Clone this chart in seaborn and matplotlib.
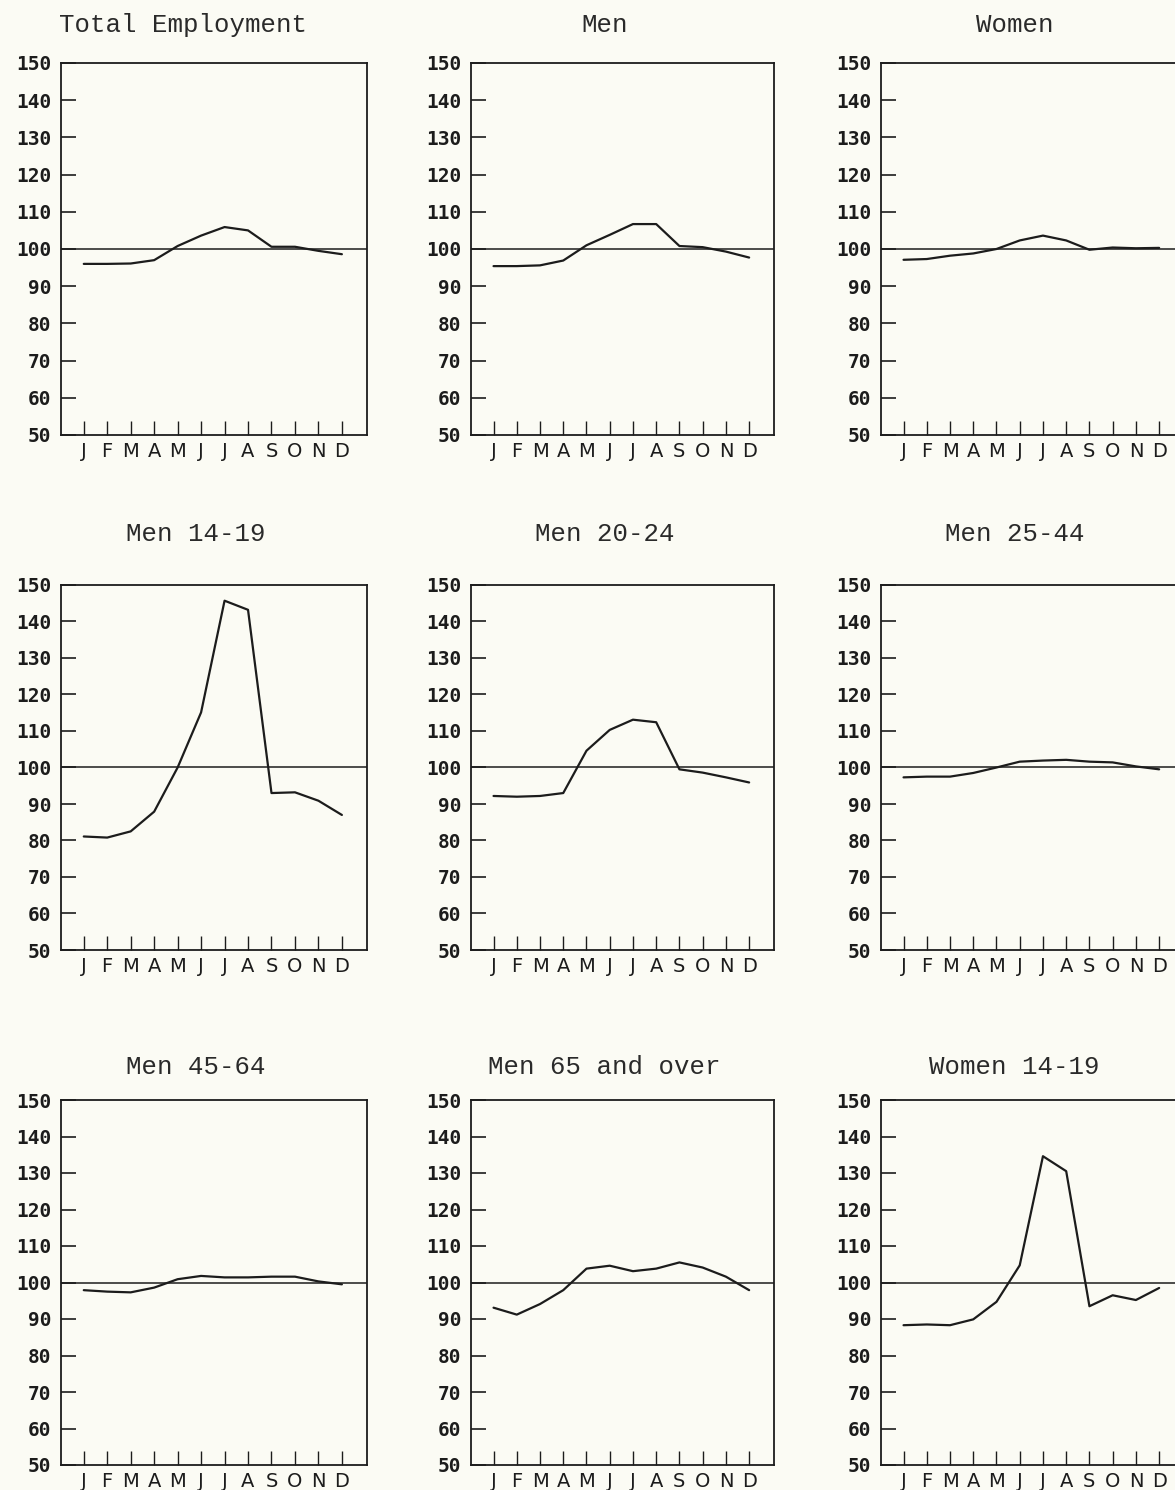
import numpy as np
import pandas as pd
import matplotlib
matplotlib.use("Agg")
import matplotlib.pyplot as plt
import seaborn as sns

# --- Data (seasonal index, 100 = annual average) ---
MONTHS = ["J", "F", "M", "A", "M", "J", "J", "A", "S", "O", "N", "D"]

total_employment = [96.0, 96.0, 96.1, 97.0, 100.8, 103.6, 105.9, 105.0, 100.6, 100.6, 99.5, 98.6]
men = [95.4, 95.4, 95.6, 96.9, 101.0, 103.8, 106.7, 106.7, 100.8, 100.5, 99.3, 97.7]
women = [97.1, 97.3, 98.2, 98.8, 100.0, 102.3, 103.6, 102.3, 99.8, 100.4, 100.2, 100.3]
men_14_19 = [81.1, 80.8, 82.5, 87.9, 100.0, 115.1, 145.7, 143.2, 93.0, 93.2, 90.9, 87.0]
men_20_24 = [92.2, 92.0, 92.2, 93.0, 104.6, 110.3, 113.1, 112.4, 99.5, 98.6, 97.3, 95.9]
men_25_44 = [97.3, 97.5, 97.5, 98.5, 100.0, 101.6, 101.9, 102.1, 101.6, 101.4, 100.3, 99.5]
men_45_64 = [97.9, 97.5, 97.3, 98.6, 100.9, 101.8, 101.4, 101.4, 101.6, 101.6, 100.3, 99.5]
men_65_over = [93.1, 91.2, 94.1, 97.9, 103.8, 104.6, 103.1, 103.8, 105.5, 104.1, 101.6, 97.9]
women_14_19 = [88.3, 88.5, 88.3, 89.9, 94.7, 104.7, 134.6, 130.5, 93.5, 96.5, 95.2, 98.5]

TITLES = ["Total Employment", "Men", "Women",
          "Men 14-19", "Men 20-24", "Men 25-44",
          "Men 45-64", "Men 65 and over", "Women 14-19"]
SERIES = [total_employment, men, women,
          men_14_19, men_20_24, men_25_44,
          men_45_64, men_65_over, women_14_19]
Y_TICKS = list(range(50, 151, 10))
BASELINE = 100

# --- Layout (pixels on a 1175x1490 canvas) ---
W, H = 1175, 1490
COL_LEFT = [61, 471, 881]
COL_WIDTH = [306, 303, 303]
ROW_TOP = [63, 585, 1100]
ROW_BOTTOM = [435, 950, 1465]
TITLE_Y = [25, 534, 1067]

INK = "#1c1c1c"
PAPER = "#fbfbf4"

sns.set_style("ticks")
plt.rcParams["font.family"] = ["DejaVu Sans Mono", "DejaVu Sans"]

fig = plt.figure(figsize=(W / 100, H / 100), dpi=100, facecolor=PAPER)

month_idx = np.arange(len(MONTHS))

for i, (title, vals) in enumerate(zip(TITLES, SERIES)):
    r, c = divmod(i, 3)
    left, width = COL_LEFT[c], COL_WIDTH[c]
    top, bottom = ROW_TOP[r], ROW_BOTTOM[r]
    ax = fig.add_axes([left / W, 1 - bottom / H, width / W, (bottom - top) / H])
    ax.set_facecolor(PAPER)

    df = pd.DataFrame({"month": month_idx, "index": vals})
    ax.axhline(BASELINE, color=INK, lw=1.1, zorder=2)
    sns.lineplot(data=df, x="month", y="index", ax=ax, color=INK, lw=1.6, zorder=3)

    ax.set_xlim(-0.97, 12.07)
    ax.set_ylim(50, 150)
    ax.set_yticks(Y_TICKS)
    ax.set_yticklabels([str(v) for v in Y_TICKS], fontsize=14, color=INK,
                       fontweight="bold")
    ax.set_xticks(month_idx)
    ax.set_xticklabels(MONTHS, fontsize=14, color=INK, family="DejaVu Sans")
    ax.tick_params(axis="y", direction="in", length=11, width=1.2, pad=7, colors=INK)
    ax.tick_params(axis="x", direction="in", length=10, width=1.0, pad=5, colors=INK)
    ax.set_xlabel("")
    ax.set_ylabel("")
    for sp in ax.spines.values():
        sp.set_visible(True)
        sp.set_color(INK)
        sp.set_linewidth(1.3)

    # titles sit a bit left of the frame centre (centred over frame + tick labels)
    tx = 0.40 if i == 0 else 0.44
    fig.text((left + tx * width) / W, 1 - TITLE_Y[r] / H, title,
             ha="center", va="center", fontsize=18.5, color="#2a2a2a",
             family=["Liberation Mono", "DejaVu Sans Mono"])

fig.savefig("out.png", dpi=100, facecolor=PAPER)
